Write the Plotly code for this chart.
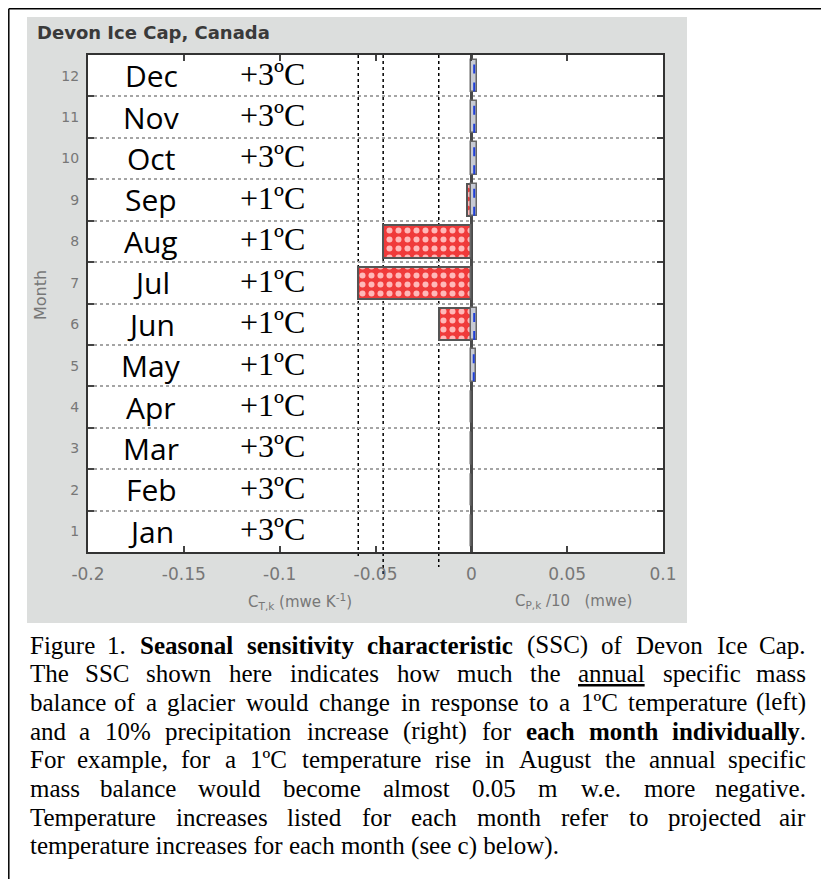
import re
import plotly.graph_objects as go

# The page body has an 8px default margin; the figure is sized to fill the
# rest of the 829x879 window and reference-pixel positions are offset by it.
PAGE_W, PAGE_H, BODY = 829, 879, 8
W, H = PAGE_W - BODY, PAGE_H - BODY

# ---------------- data ----------------
months = ["Jan", "Feb", "Mar", "Apr", "May", "Jun", "Jul", "Aug", "Sep", "Oct", "Nov", "Dec"]
month_num = list(range(1, 13))
temp_increase = ["+3ºC", "+3ºC", "+3ºC", "+1ºC", "+1ºC", "+1ºC",
                 "+1ºC", "+1ºC", "+1ºC", "+3ºC", "+3ºC", "+3ºC"]
# C_T,k (mwe K-1), temperature sensitivity per month
c_temp = [0.0, 0.0, 0.0, 0.0, 0.0, -0.017, -0.059, -0.046, -0.0025, 0.0, 0.0, 0.0]
# C_P,k / 10 (mwe), precipitation sensitivity per month
c_prec10 = [0.0, 0.0, 0.0, 0.0, 0.0025, 0.003, 0.0, 0.0, 0.003, 0.003, 0.003, 0.003]
x_tickvals = [-0.2, -0.15, -0.1, -0.05, 0, 0.05, 0.1]
x_ticktext = ["-0.2", "-0.15", "-0.1", "-0.05", "0", "0.05", "0.1"]
y_ticktext = [str(m) for m in month_num]
marked_months = ["Jul", "Aug", "Jun"]          # dotted guide lines at these bar ends
marked_bottom_px = [557, 575, 567]

caption_lines = [
    "Figure 1. <b>Seasonal</b> <b>sensitivity</b> <b>characteristic</b> (SSC) of Devon Ice Cap.",
    "The SSC shown here indicates how much the <span style=\"text-decoration:underline\">annual</span> specific mass",
    "balance of a glacier would change in response to a 1ºC temperature (left)",
    "and a 10% precipitation increase (right) for <b>each</b> <b>month</b> <b>individually</b>.",
    "For example, for a 1ºC temperature rise in August the annual specific",
    "mass balance would become almost 0.05 m w.e. more negative.",
    "Temperature increases listed for each month refer to projected air",
    "temperature increases for each month (see c) below).",
]

# ---------------- helpers ----------------
def px(x):
    return (x - BODY) / W


def py(y):
    return 1 - (y - BODY) / H


PLOT_L, PLOT_R, PLOT_T, PLOT_B = 88, 663, 55, 552

REG = dict(zip("abcdefghijklmnopqrstuvwxyz",
               [444, 500, 444, 500, 444, 333, 500, 500, 278, 278, 500, 278, 778, 500, 500, 500, 500, 333, 389, 278, 500, 500, 722, 500, 500, 444]))
REG.update(dict(zip("ABCDEFGHIJKLMNOPQRSTUVWXYZ",
                    [722, 667, 667, 722, 611, 556, 722, 722, 333, 389, 722, 611, 889, 722, 722, 556, 722, 667, 556, 611, 722, 722, 944, 722, 722, 611])))
REG.update({d: 500 for d in "0123456789"})
REG.update({" ": 250, ".": 250, ",": 250, "(": 333, ")": 333, "%": 833, "º": 310, "-": 333})
BOLD = dict(zip("abcdefghijklmnopqrstuvwxyz",
                [500, 556, 444, 556, 444, 333, 500, 556, 278, 333, 556, 278, 833, 556, 500, 556, 556, 444, 389, 333, 556, 500, 722, 500, 500, 444]))


def word_width(html, size):
    bold = False
    total = 0
    for tok in re.split(r"(<[^>]+>)", html):
        if tok.startswith("<"):
            if tok == "<b>":
                bold = True
            elif tok == "</b>":
                bold = False
            continue
        for ch in tok:
            total += (BOLD.get(ch) if bold and ch in BOLD else REG.get(ch, 500))
    return total * size / 1000


def split_words(line):
    words, cur, depth = [], "", 0
    for ch in line:
        if ch == "<":
            depth += 1
        elif ch == ">":
            depth -= 1
        if ch == " " and depth == 0:
            words.append(cur)
            cur = ""
        else:
            cur += ch
    words.append(cur)
    return words


# ---------------- figure ----------------
fig = go.Figure()

fig.add_trace(go.Bar(
    x=c_temp, y=month_num, orientation="h", width=0.78,
    marker=dict(color="#f03a3a",
                line=dict(color="#555555", width=2),
                pattern=dict(shape=".", fgcolor="#ffb8b8", bgcolor="#f03a3a",
                             size=9, solidity=0.35, fillmode="replace")),
    showlegend=False, hoverinfo="skip"))

fig.add_trace(go.Bar(
    x=c_prec10, y=month_num, orientation="h", width=0.78,
    marker=dict(color="#c7cad4", line=dict(color="#666666", width=1.5)),
    showlegend=False, hoverinfo="skip"))

# blue dashed centre line of the precipitation bars
bx, by = [], []
for m, v in zip(month_num, c_prec10):
    if v > 0:
        bx += [v / 2, v / 2, None]
        by += [m - 0.38, m + 0.38, None]
fig.add_trace(go.Scatter(x=bx, y=by, mode="lines",
                         line=dict(color="#1f3fd8", width=2, dash="dash"),
                         showlegend=False, hoverinfo="skip"))

shapes = [
    dict(type="rect", xref="paper", yref="paper", x0=px(27), x1=px(687), y0=py(623), y1=py(17),
         fillcolor="#dcdedd", line=dict(width=0), layer="below"),
    dict(type="rect", xref="paper", yref="paper", x0=px(PLOT_L), x1=px(PLOT_R), y0=py(PLOT_B), y1=py(PLOT_T),
         fillcolor="white", line=dict(width=0), layer="below"),
    dict(type="line", xref="paper", yref="paper", x0=px(BODY + 0.8), x1=px(BODY + 0.8), y0=0, y1=py(BODY + 0.8),
         line=dict(color="black", width=1.5)),
    dict(type="line", xref="paper", yref="paper", x0=px(BODY + 0.8), x1=px(826), y0=py(BODY + 0.8), y1=py(BODY + 0.8),
         line=dict(color="black", width=1.5)),
    dict(type="line", xref="paper", yref="paper", x0=px(826), x1=px(826), y0=0, y1=py(BODY + 0.8),
         line=dict(color="black", width=1.5)),
]
for name, bottom in zip(marked_months, marked_bottom_px):
    v = c_temp[months.index(name)]
    shapes.append(dict(type="line", xref="x", yref="paper", x0=v, x1=v,
                       y0=py(PLOT_T), y1=py(bottom),
                       line=dict(color="black", width=1.5, dash="dot"), layer="between"))

annotations = [
    dict(text="Devon Ice Cap, Canada", xref="paper", yref="paper", x=px(35), y=py(33),
         xanchor="left", yanchor="middle", showarrow=False,
         font=dict(family="DejaVu Sans", size=18, color="#3a3a3a", weight="bold")),
    dict(text="C<sub>T,k</sub> (mwe K<sup>-1</sup>)", xref="paper", yref="paper", x=px(300), y=py(601),
         xanchor="center", yanchor="middle", showarrow=False,
         font=dict(family="DejaVu Sans", size=15, color="#777777")),
    dict(text="C<sub>P,k</sub> /10\u00a0\u00a0\u00a0(mwe)", xref="paper", yref="paper", x=px(573), y=py(601),
         xanchor="center", yanchor="middle", showarrow=False,
         font=dict(family="DejaVu Sans", size=15, color="#777777")),
    dict(text="Month", xref="paper", yref="paper", x=px(41), y=py(295), textangle=-90,
         xanchor="center", yanchor="middle", showarrow=False,
         font=dict(family="DejaVu Sans", size=16, color="#777777")),
]
for m, name, t in zip(month_num, months, temp_increase):
    annotations.append(dict(text=name, xref="paper", yref="y", x=px(151), y=m,
                            xanchor="center", yanchor="middle", showarrow=False,
                            font=dict(family="Open Sans", size=30, color="black")))
    annotations.append(dict(text=t, xref="paper", yref="y", x=px(272), y=m + 0.05,
                            xanchor="center", yanchor="middle", showarrow=False,
                            font=dict(family="Liberation Serif", size=32, color="black")))

# justified caption
CAP_L, CAP_R, CAP_Y0, CAP_DY, CAP_FS = 28, 808, 645, 28.7, 25
for i, line in enumerate(caption_lines):
    yy = py(CAP_Y0 + i * CAP_DY)
    if i == len(caption_lines) - 1:
        annotations.append(dict(text=line, xref="paper", yref="paper", x=px(CAP_L), y=yy,
                                xanchor="left", yanchor="middle", showarrow=False,
                                font=dict(family="Liberation Serif", size=CAP_FS, color="black")))
        continue
    words = split_words(line)
    widths = [word_width(w, CAP_FS) for w in words]
    gap = (CAP_R - CAP_L - sum(widths)) / (len(words) - 1)
    x = CAP_L
    for j, (w, wd) in enumerate(zip(words, widths)):
        if j == 0:
            xa, xpos = "left", x
        elif j == len(words) - 1:
            xa, xpos = "right", CAP_R
        else:
            xa, xpos = "center", x + wd / 2
        annotations.append(dict(text=w, xref="paper", yref="paper", x=px(xpos), y=yy,
                                xanchor=xa, yanchor="middle", showarrow=False,
                                font=dict(family="Liberation Serif", size=CAP_FS, color="black")))
        x += wd + gap

fig.update_layout(
    width=W, height=H, autosize=False,
    margin=dict(l=0, r=0, t=0, b=0, pad=0, autoexpand=False),
    paper_bgcolor="white", plot_bgcolor="rgba(0,0,0,0)",
    barmode="overlay", bargap=0,
    shapes=shapes, annotations=annotations,
    xaxis=dict(domain=[px(PLOT_L), px(PLOT_R)], range=[-0.2, 0.1],
               tickmode="array", tickvals=x_tickvals, ticktext=x_ticktext,
               ticks="inside", ticklen=6, tickwidth=1.5, tickcolor="#444444",
               showline=True, linecolor="#333333", linewidth=2, mirror="ticks",
               showgrid=False, zeroline=True, zerolinecolor="#4a4a4a", zerolinewidth=3,
               tickfont=dict(family="DejaVu Sans", size=17, color="#777777"),
               ticklabelstandoff=6, fixedrange=True, automargin=False),
    yaxis=dict(domain=[py(PLOT_B), py(PLOT_T)], range=[0.5, 12.5],
               tickmode="array", tickvals=month_num, ticktext=y_ticktext, ticks="",
               showline=True, linecolor="#333333", linewidth=2, mirror="ticks",
               showgrid=False, zeroline=False,
               tickfont=dict(family="DejaVu Sans", size=14, color="#777777"),
               ticklabelstandoff=4, fixedrange=True, automargin=False,
               minor=dict(tickmode="array", tickvals=[m + 0.5 for m in month_num[:-1]],
                          ticks="inside", ticklen=6, tickwidth=1.5, tickcolor="#444444",
                          showgrid=True, gridcolor="#a5a5a5", gridwidth=2, griddash="dot")),
)

fig.write_html("out.html")
